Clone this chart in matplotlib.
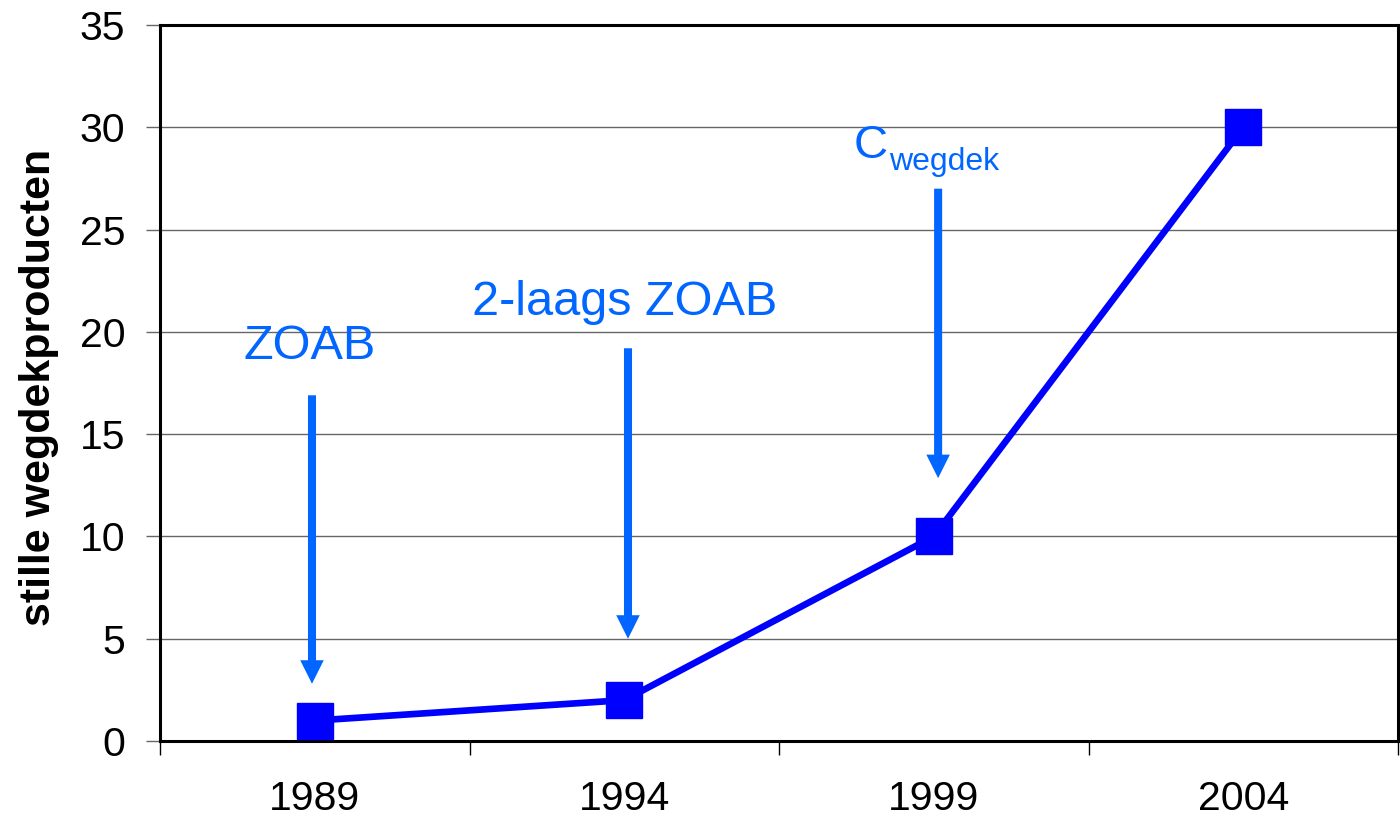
import numpy as np
import matplotlib
matplotlib.use('Agg')
import matplotlib.pyplot as plt

plt.rcParams['font.family'] = ['Liberation Sans', 'DejaVu Sans']

jaren = ['1989', '1994', '1999', '2004']
aantal = [1, 2, 10, 30]

lijn_kleur = '#0000FF'
pijl_kleur = '#0066FF'

fig = plt.figure(figsize=(14, 8.21), dpi=100)
ax = fig.add_axes([0.1143, 0.0974, 0.8843, 0.8721])

x = np.arange(len(jaren))
ax.plot(x, aantal, color=lijn_kleur, lw=4.8, marker='s', markersize=26,
        markerfacecolor=lijn_kleur, markeredgecolor=lijn_kleur, zorder=5,
        clip_on=False)

ax.set_xlim(-0.5, 3.5)
ax.set_ylim(0, 35)
ax.set_yticks(np.arange(0, 36, 5))
ax.yaxis.grid(True, color='#666666', lw=1.0)
ax.set_axisbelow(True)

ax.set_xticks(x)
ax.set_xticklabels(jaren)
ax.set_xticks(np.arange(-0.5, 3.6, 1), minor=True)
ax.tick_params(axis='x', which='major', length=0, pad=28, labelsize=29.5)
ax.tick_params(axis='x', which='minor', length=10, width=1, color='black')
ax.tick_params(axis='y', length=10, width=1, color='#666666', pad=15, labelsize=29.5)

for s in ax.spines.values():
    s.set_linewidth(2.2)
    s.set_color('black')

ax.set_ylabel('stille wegdekproducten', fontsize=31, fontweight='bold')
ax.yaxis.set_label_coords(-0.082, 0.494)

# pijlen
pijlen = [(-0.009, 16.9, 2.8), (1.012, 19.2, 5.0), (2.014, 27.0, 12.85)]
for px, y0, y1 in pijlen:
    ax.arrow(px, y0, 0, y1 - y0, width=0.026, head_width=0.076,
             head_length=1.15, length_includes_head=True,
             color=pijl_kleur, lw=0, zorder=4)

ax.text(-0.015, 18.67, 'ZOAB', color=pijl_kleur, fontsize=35,
        ha='center', va='baseline')
ax.text(1.0, 20.84, '2-laags ZOAB', color=pijl_kleur, fontsize=35,
        ha='center', va='baseline')
ax.text(1.852, 28.5, 'C', color=pijl_kleur, fontsize=34,
        ha='right', va='baseline')
ax.text(1.855, 27.9, 'wegdek', color=pijl_kleur, fontsize=23,
        ha='left', va='baseline')

plt.savefig('out.png', dpi=100)
